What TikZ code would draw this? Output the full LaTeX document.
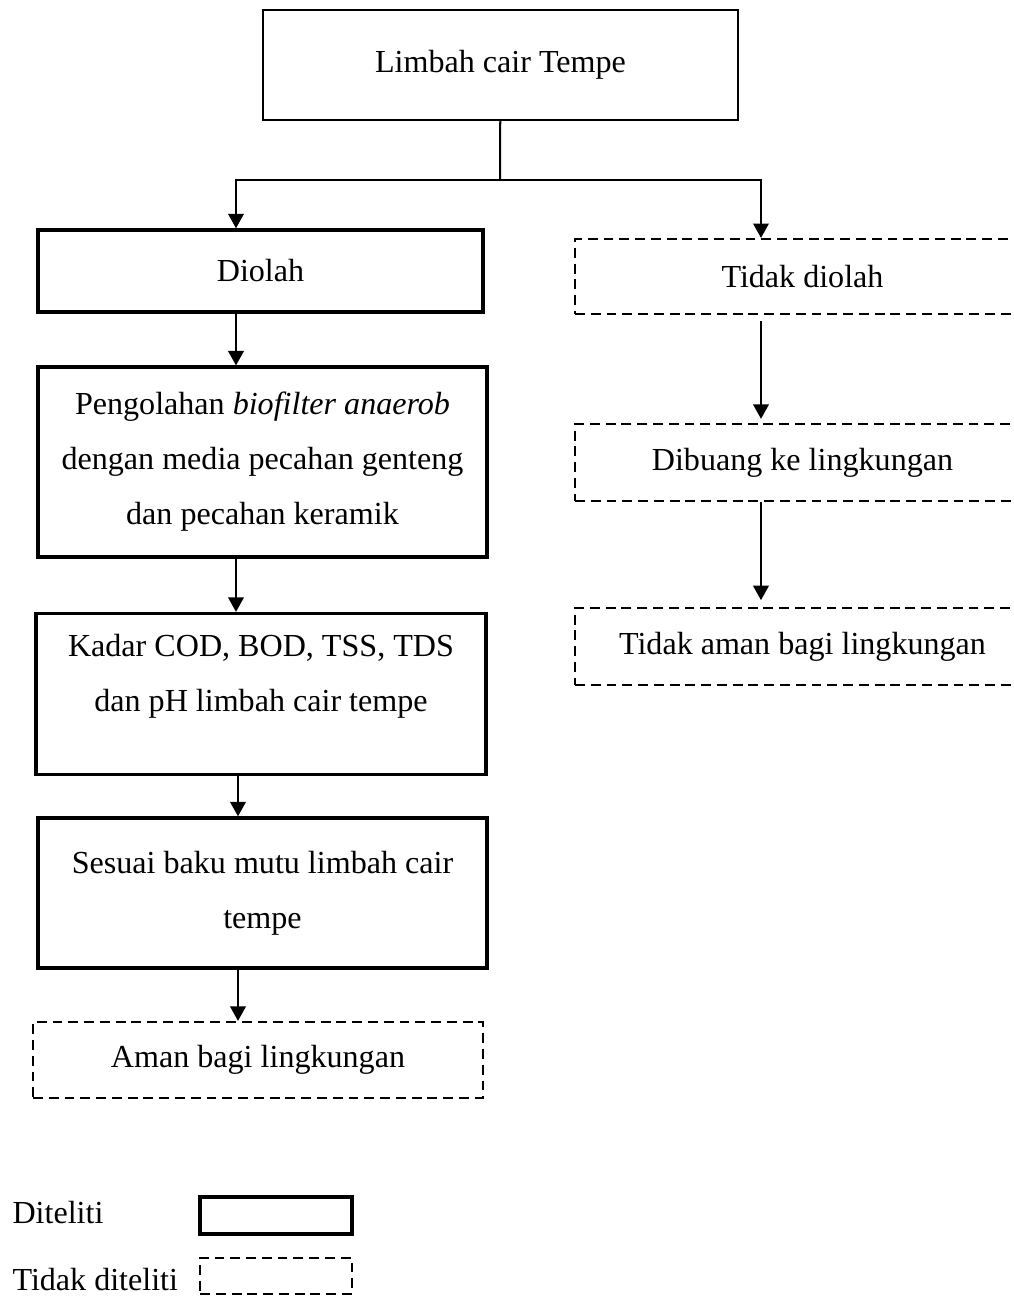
\documentclass[tikz,border=0pt]{standalone}
\usepackage{fontspec}
\setmainfont{Liberation Serif}
\usetikzlibrary{arrows.meta}

\begin{document}
\begin{tikzpicture}[x=0.374pt, y=-0.374pt, >={Triangle[length=5.4pt,width=5.8pt]},
                    every node/.style={font=\fontsize{12}{20.6}\selectfont, align=center, inner sep=0pt},
                    main node/.style={rectangle,draw,line width=1.25pt},
                    thin node/.style={rectangle,draw,line width=0.75pt},
                    dash node/.style={rectangle,draw,line width=0.85pt,dash pattern=on 3.7pt off 2.2pt}]
    \useasboundingbox (0,0) rectangle (1014,1297);
    \node[thin node, minimum width=177.7pt, minimum height=41.1pt] (1) at (500.5,65) {Limbah cair Tempe};
    \node[main node, minimum width=166.4pt, minimum height=30.7pt] (2) at (260.5,271) {Diolah};
    \node[dash node, minimum width=170.2pt, minimum height=28pt] (3) at (802.5,276.5) {Tidak diolah};
    \node[main node, minimum width=168pt, minimum height=71pt] (4) at (262.5,462)
        {Pengolahan \textit{biofilter anaerob}\\ dengan media pecahan genteng\\ dan pecahan keramik};
    \node[dash node, minimum width=170.2pt, minimum height=28.8pt] (5) at (802.5,462.5) {Dibuang ke lingkungan};
    \node[main node, minimum width=168.3pt, minimum height=60.2pt] (6) at (261,694)
        {Kadar COD, BOD, TSS, TDS\\ dan pH limbah cair tempe\\[-4.5pt] \mbox{}};
    \node[dash node, minimum width=170.2pt, minimum height=28.8pt] (7) at (802.5,646.5) {Tidak aman bagi lingkungan};
    \node[main node, minimum width=168pt, minimum height=56.1pt] (8) at (262.5,893)
        {Sesuai baku mutu limbah cair\\ tempe};
    \node[dash node, minimum width=168.3pt, minimum height=28.4pt] (9) at (258,1060) {Aman bagi lingkungan};

    \node[anchor=west] (10) at (12,1213) {Diteliti};
    \node[main node, minimum width=56.8pt, minimum height=13.8pt] (11) at (276,1215.5) {};
    \node[anchor=west] (12) at (12,1280) {Tidak diteliti};
    \node[dash node, minimum width=56.8pt, minimum height=13.5pt] (13) at (276,1276) {};

    \coordinate (s) at (500,180);
    \coordinate (l) at (236,180);
    \coordinate (r) at (761,180);
    \coordinate (m) at (238,0);

    \draw[line width=0.75pt] (1) -- (s);
    \draw[->, line width=0.75pt] (s) -- (l) -- (2.north -| l);
    \draw[->, line width=0.75pt] (s) -- (r) -- (3.north -| r);

    \path[->, line width=0.75pt]
        (2.south -| l) edge (4.north -| l)
        (4.south -| l) edge (6.north -| l)
        (6.south -| m) edge (8.north -| m)
        (8.south -| m) edge (9.north -| m)
        (3.south -| r) edge [shorten <=2.2pt, shorten >=1.5pt] (5.north -| r)
        (5.south -| r) edge [shorten >=2.5pt] (7.north -| r);
\end{tikzpicture}
\end{document}
